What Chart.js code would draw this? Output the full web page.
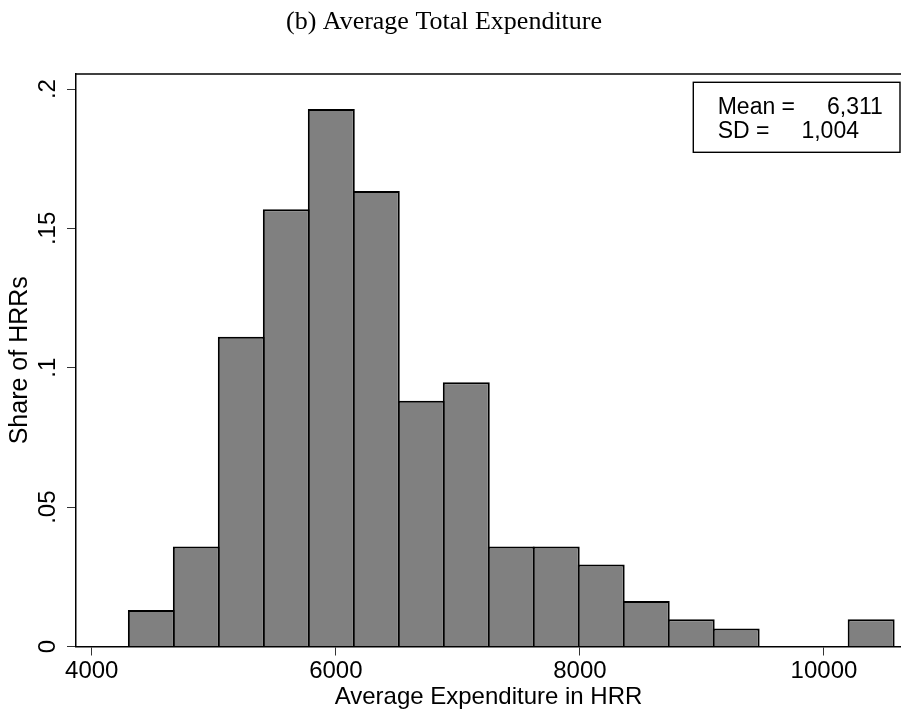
<!DOCTYPE html>
<html>
<head>
<meta charset="utf-8">
<script src="https://cdn.jsdelivr.net/npm/chart.js@4/dist/chart.umd.min.js"></script>
<style>
  html, body { margin: 0; padding: 0; background: #ffffff; }
  #wrap { width: 901px; height: 712px; }
</style>
</head>
<body>
<div id="wrap"><canvas id="hist" width="901" height="712"></canvas></div>
<script>
// Histogram of average total expenditure across HRRs (17 equal-width bins)
const chartTitle = '(b) Average Total Expenditure';
const xAxisTitle = 'Average Expenditure in HRR';
const yAxisTitle = 'Share of HRRs';

// Bin boundaries, in dollars
const binEdges = [4304, 4673, 5041, 5410, 5779, 6147, 6516, 6885, 7253,
                  7622, 7990, 8359, 8728, 9096, 9465, 9834, 10202, 10571];
// Share of HRRs falling in each bin
const shareOfHRRs = [0.0131, 0.0359, 0.1111, 0.1569, 0.1928, 0.1634, 0.0882, 0.0948, 0.0359,
                     0.0359, 0.0294, 0.0163, 0.0098, 0.0065, 0, 0, 0.0098];

const xTickValues = [4000, 6000, 8000, 10000];
const xTickLabels = ['4000', '6000', '8000', '10000'];
const yTickValues = [0, 0.05, 0.1, 0.15, 0.2];
const yTickLabels = ['0', '.05', '.1', '.15', '.2'];

const statsLines = ['Mean =     6,311', 'SD =     1,004'];

const points = shareOfHRRs.map((v, i) => ({ x: (binEdges[i] + binEdges[i + 1]) / 2, y: v }));

Chart.defaults.font.family = "'Liberation Sans', Arial, Helvetica, sans-serif";
Chart.defaults.color = '#000000';

// Chart title, top frame line and the summary-statistics box
const decorations = {
  id: 'decorations',
  afterDraw(chart) {
    const ctx = chart.ctx;
    const area = chart.chartArea;
    ctx.save();
    // top edge of the plot region
    ctx.strokeStyle = '#000000';
    ctx.lineWidth = 1.5;
    ctx.beginPath();
    ctx.moveTo(area.left - 0.75, area.top);
    ctx.lineTo(area.right, area.top);
    ctx.stroke();

    // title
    ctx.fillStyle = '#000000';
    ctx.font = "26px 'Liberation Serif', 'Times New Roman', serif";
    ctx.textAlign = 'center';
    ctx.textBaseline = 'alphabetic';
    ctx.fillText(chartTitle, 444, 29);

    // statistics box
    ctx.fillStyle = '#ffffff';
    ctx.fillRect(693.3, 82.3, 206.7, 70);
    ctx.lineWidth = 1.4;
    ctx.strokeStyle = '#000000';
    ctx.strokeRect(693.3, 82.3, 206.7, 70);
    ctx.fillStyle = '#000000';
    ctx.font = "23px 'Liberation Sans', Arial, sans-serif";
    ctx.textAlign = 'left';
    statsLines.forEach((line, i) => {
      ctx.fillText(line, 717.7, 114 + i * 24.3);
    });
    ctx.restore();
  }
};

new Chart(document.getElementById('hist'), {
  type: 'bar',
  data: {
    datasets: [{
      data: points,
      backgroundColor: '#808080',
      borderColor: '#000000',
      borderWidth: 2,
      borderSkipped: 'start',
      barPercentage: 1.0444,
      categoryPercentage: 1.0
    }]
  },
  options: {
    responsive: false,
    devicePixelRatio: 1,
    animation: false,
    layout: { padding: { top: 74, left: 0, right: 0, bottom: 0 } },
    plugins: {
      legend: { display: false },
      tooltip: { enabled: false },
      title: { display: false }
    },
    scales: {
      x: {
        type: 'linear',
        min: 3871,
        max: 10631,
        offset: false,
        afterBuildTicks(scale) { scale.ticks = xTickValues.map(v => ({ value: v })); },
        afterFit(scale) { scale.height = 65.5; },
        ticks: {
          autoSkip: false,
          maxRotation: 0,
          minRotation: 0,
          padding: 1,
          font: { size: 24 },
          color: '#000000',
          callback(value) { const i = xTickValues.indexOf(value); return i >= 0 ? xTickLabels[i] : ''; }
        },
        grid: {
          display: true,
          offset: false,
          drawOnChartArea: false,
          drawTicks: true,
          tickLength: 9,
          tickColor: '#333333',
          tickWidth: 1
        },
        border: { display: true, color: '#000000', width: 1.5 },
        title: {
          display: true,
          text: xAxisTitle,
          font: { size: 24 },
          color: '#000000',
          padding: { top: 0, bottom: 0 }
        }
      },
      y: {
        type: 'linear',
        min: 0,
        max: 0.2054,
        afterBuildTicks(scale) { scale.ticks = yTickValues.map(v => ({ value: v })); },
        afterFit(scale) { scale.width = 76; },
        ticks: {
          autoSkip: false,
          minRotation: 90,
          maxRotation: 90,
          crossAlign: 'center',
          padding: 2.3,
          font: { size: 24 },
          color: '#000000',
          callback(value) { const i = yTickValues.indexOf(value); return i >= 0 ? yTickLabels[i] : ''; }
        },
        grid: {
          display: true,
          drawOnChartArea: false,
          drawTicks: true,
          tickLength: 9,
          tickColor: '#333333',
          tickWidth: 1
        },
        border: { display: true, color: '#000000', width: 1.5 },
        title: {
          display: true,
          text: yAxisTitle,
          font: { size: 25 },
          color: '#000000',
          padding: { top: 5, bottom: 0 }
        }
      }
    }
  },
  plugins: [decorations]
});
</script>
</body>
</html>
